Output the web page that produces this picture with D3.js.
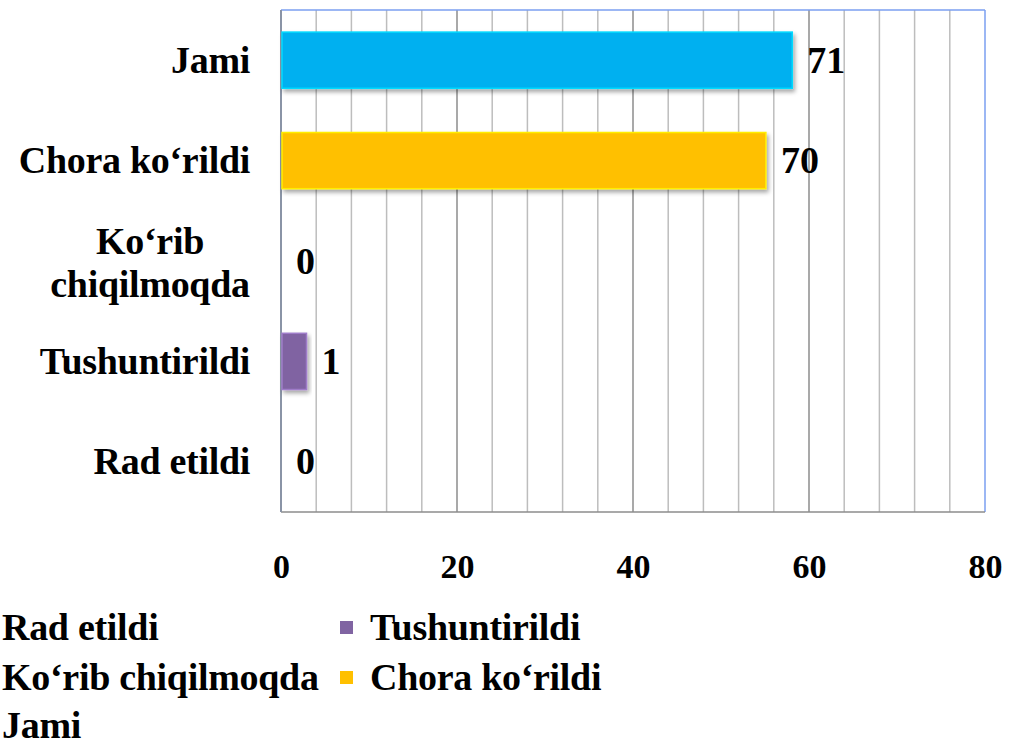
<!DOCTYPE html>
<html>
<head>
<meta charset="utf-8">
<script src="https://cdn.jsdelivr.net/npm/d3@7/dist/d3.min.js"></script>
<style>
  body { margin: 0; background: #fff; }
  text { font-family: "Liberation Serif", "Times New Roman", serif; font-weight: bold; fill: #000; }
</style>
</head>
<body>
<svg id="chart" width="1011" height="745"></svg>
<script>
// categories top to bottom
var categories = ["Jami", "Chora ko‘rildi", "Ko‘rib chiqilmoqda", "Tushuntirildi", "Rad etildi"];
// bar lengths as drawn in the picture
var barValues = [58.1, 55.1, 0, 2.9, 0];
// value labels as printed next to the bars
var labelValues = [71, 70, 0, 1, 0];
var barColors = ["#00b0f0", "#ffc000", "#c0504d", "#8064a2", "#4f81bd"];
var xTicks = [0, 20, 40, 60, 80];

// legend order
var legendNames = ["Rad etildi", "Tushuntirildi", "Ko‘rib chiqilmoqda", "Chora ko‘rildi", "Jami"];
var legendColors = ["#4f81bd", "#8064a2", "#c0504d", "#ffc000", "#00b0f0"];

var plot = {left: 281, top: 10, right: 985, bottom: 512};

var svg = d3.select('#chart');

var defs = svg.append('defs');
var shadow = defs.append('filter').attr('id', 'shadow')
  .attr('x', '-10%').attr('y', '-20%').attr('width', '130%').attr('height', '160%');
shadow.append('feDropShadow')
  .attr('dx', 2).attr('dy', 3).attr('stdDeviation', 2)
  .attr('flood-color', '#000').attr('flood-opacity', 0.35);

var x = d3.scaleLinear().domain([0, 80]).range([plot.left, plot.right]);
var y = d3.scaleBand().domain(categories).range([plot.top, plot.bottom]).paddingInner(0.44).paddingOuter(0.22);

// gridlines (minor every 4, major every 20)
var grid = d3.range(4, 80, 4);
svg.append('g').selectAll('line')
  .data(grid)
  .enter().append('line')
  .attr('x1', function(d) { return x(d); })
  .attr('x2', function(d) { return x(d); })
  .attr('y1', plot.top)
  .attr('y2', plot.bottom)
  .attr('stroke', function(d) { return d % 20 === 0 ? '#8c8c8c' : '#bdbdbd'; })
  .attr('stroke-width', 1.5);

// plot frame
svg.append('line').attr('x1', plot.left).attr('x2', plot.right).attr('y1', plot.top).attr('y2', plot.top)
  .attr('stroke', '#7b9ff0').attr('stroke-width', 1.5);
svg.append('line').attr('x1', plot.right).attr('x2', plot.right).attr('y1', plot.top).attr('y2', plot.bottom)
  .attr('stroke', '#7b9ff0').attr('stroke-width', 1.5);
svg.append('line').attr('x1', plot.left).attr('x2', plot.right).attr('y1', plot.bottom).attr('y2', plot.bottom)
  .attr('stroke', '#8c8c8c').attr('stroke-width', 1.5);
svg.append('line').attr('x1', plot.left).attr('x2', plot.left).attr('y1', plot.top).attr('y2', plot.bottom)
  .attr('stroke', '#8a94a6').attr('stroke-width', 2);

// bars
svg.append('g').selectAll('rect')
  .data(categories)
  .enter().append('rect')
  .filter(function(d, i) { return barValues[i] > 0; })
  .attr('x', x(0) + 1)
  .attr('y', function(d) { return y(d); })
  .attr('width', function(d) { return x(barValues[categories.indexOf(d)]) - x(0) - 1; })
  .attr('height', y.bandwidth())
  .attr('fill', function(d) { return barColors[categories.indexOf(d)]; })
  .attr('stroke', function(d) { return d3.color(barColors[categories.indexOf(d)]).brighter(0.6); })
  .attr('stroke-width', 1.5)
  .attr('filter', 'url(#shadow)');

// value labels
svg.append('g').selectAll('text')
  .data(categories)
  .enter().append('text')
  .attr('x', function(d, i) { return x(barValues[i]) + 15; })
  .attr('y', function(d) { return y(d) + y.bandwidth() / 2; })
  .attr('dy', '0.33em')
  .style('font-size', '38px')
  .text(function(d, i) { return labelValues[i]; });

// category labels, long one wraps in two centred lines
var catLabels = svg.append('g').selectAll('text')
  .data(categories)
  .enter().append('text')
  .attr('y', function(d) { return y(d) + y.bandwidth() / 2; })
  .style('font-size', '38px')
  .style('letter-spacing', '-0.3px');
catLabels.each(function(d) {
  var lines = d.length > 16 ? d.split(' ') : [d];
  var t = d3.select(this);
  lines.forEach(function(line, k) {
    t.append('tspan')
      .attr('x', lines.length > 1 ? 150 : 250)
      .attr('text-anchor', lines.length > 1 ? 'middle' : 'end')
      .attr('dy', k === 0 ? (lines.length > 1 ? '-0.18em' : '0.33em') : '1.12em')
      .text(line);
  });
});

// x axis labels
var xAxis = d3.axisBottom(x).tickValues(xTicks).tickSize(0).tickPadding(0);
var axisG = svg.append('g').attr('transform', 'translate(0,578)').call(xAxis);
axisG.select('.domain').remove();
axisG.selectAll('text')
  .attr('fill', '#000')
  .attr('dy', '0')
  .style('font-size', '34px')
  .style('font-family', '"Liberation Serif", serif');

// legend, two columns; left column swatches fall off the page edge
var legendRows = [640, 690, 738];
var legend = svg.append('g').selectAll('g')
  .data(legendNames)
  .enter().append('g')
  .attr('transform', function(d, i) {
    var col = i % 2, row = Math.floor(i / 2);
    return 'translate(' + (col === 0 ? 2 : 370) + ',' + legendRows[row] + ')';
  });
legend.append('rect')
  .attr('x', -30).attr('y', -19).attr('width', 13).attr('height', 13)
  .attr('fill', function(d, i) { return legendColors[i]; });
legend.append('text')
  .style('font-size', '38px')
  .style('letter-spacing', '-0.3px')
  .text(function(d) { return d; });
</script>
</body>
</html>
